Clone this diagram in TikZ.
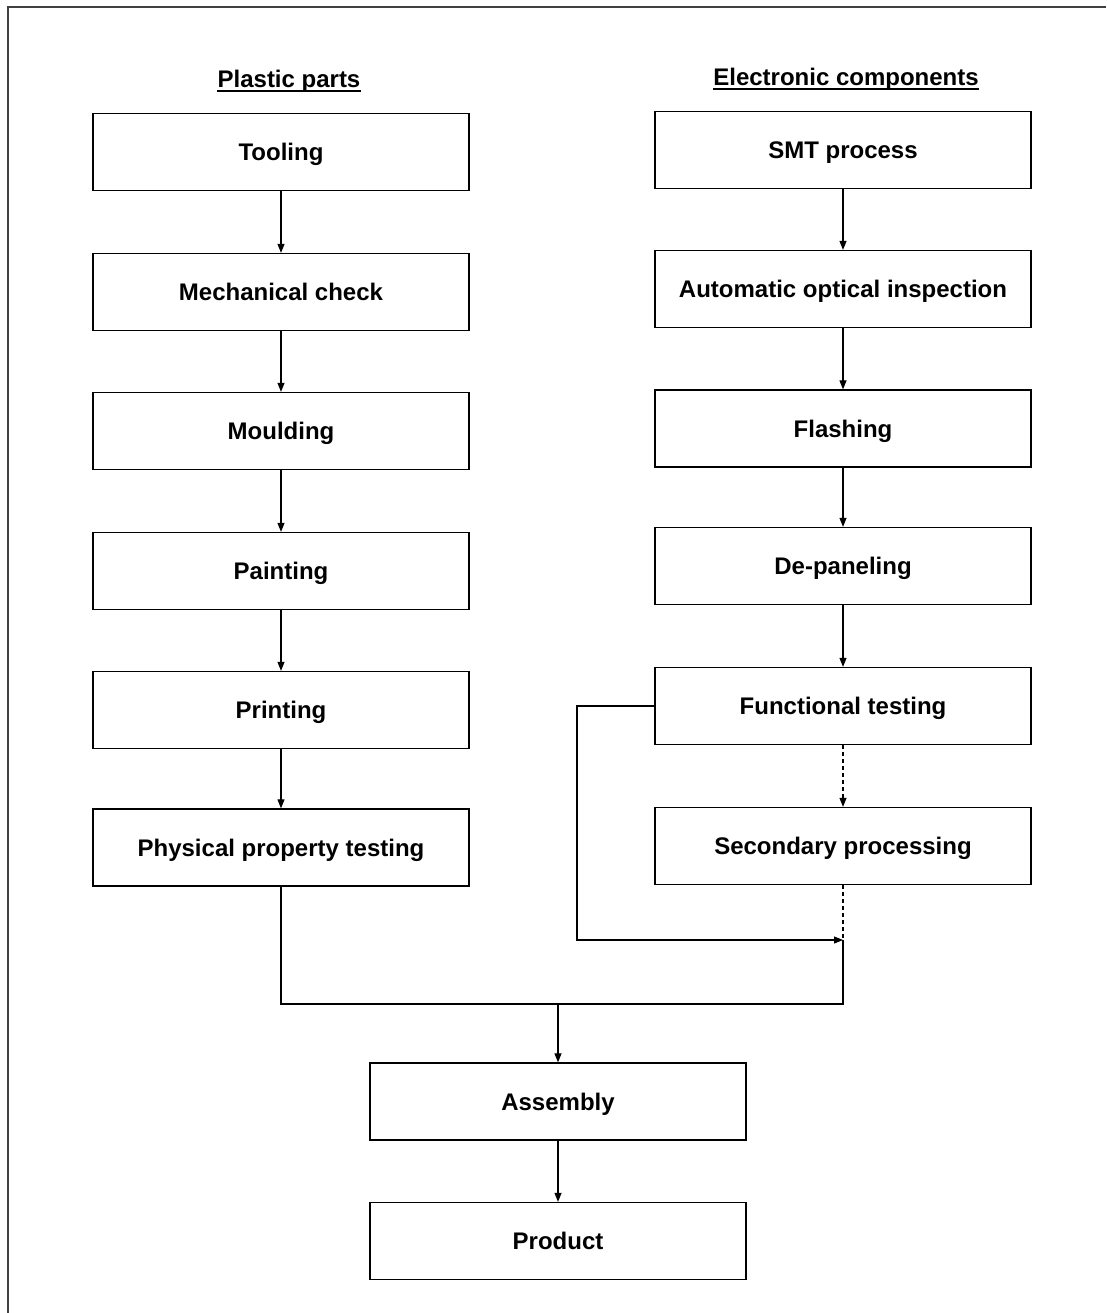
\documentclass[tikz,border=0pt]{standalone}
\usepackage{fontspec}
\setmainfont{Liberation Sans}
\usetikzlibrary{arrows.meta}
\begin{document}
\begin{tikzpicture}[x=1pt,y=-1pt,
  procbox/.style={draw=black,line width=1.3pt,minimum width=376pt,minimum height=77pt,inner sep=0pt,text height=20pt,text depth=3pt,font=\fontsize{24}{28}\selectfont\bfseries},
  heading/.style={font=\fontsize{24}{28}\selectfont\bfseries,inner sep=0pt},
  conn/.style={draw=black,line width=1.1pt},
  arr/.style={conn,-{Triangle[length=9pt,width=7pt]}},
  dsh/.style={dash pattern=on 4pt off 3pt}
]
\useasboundingbox (0,0) rectangle (1106,1313);
\draw[line width=1.5pt,black!75] (8,1313) -- (8,7) -- (1106,7);

\node[heading] (hl) at (289,81) {Plastic parts};
\node[heading] (hr) at (846,79) {Electronic components};
\draw[line width=1.8pt] ([yshift=-4pt]hl.base west) -- ([yshift=-4pt]hl.base east);
\draw[line width=1.8pt] ([yshift=-4pt]hr.base west) -- ([yshift=-4pt]hr.base east);

\node[procbox] (tool) at (281,152) {Tooling};
\node[procbox] (mech) at (281,292) {Mechanical check};
\node[procbox] (mould) at (281,431) {Moulding};
\node[procbox] (paint) at (281,571) {Painting};
\node[procbox] (print) at (281,710) {Printing};
\node[procbox] (phys) at (281,847.5) {Physical property testing};

\node[procbox] (smt) at (843,150) {SMT process};
\node[procbox] (aoi) at (843,289) {Automatic optical inspection};
\node[procbox] (flash) at (843,428.5) {Flashing};
\node[procbox] (depan) at (843,566) {De-paneling};
\node[procbox] (func) at (843,706) {Functional testing};
\node[procbox] (sec) at (843,846) {Secondary processing};

\node[procbox] (asm) at (558,1101.5) {Assembly};
\node[procbox] (prod) at (558,1241) {Product};

\coordinate (m1) at (843,940);
\coordinate (m2) at (558,1004);

\draw[arr] (tool.south) -- (mech.north);
\draw[arr] (mech.south) -- (mould.north);
\draw[arr] (mould.south) -- (paint.north);
\draw[arr] (paint.south) -- (print.north);
\draw[arr] (print.south) -- (phys.north);

\draw[arr] (smt.south) -- (aoi.north);
\draw[arr] (aoi.south) -- (flash.north);
\draw[arr] (flash.south) -- (depan.north);
\draw[arr] (depan.south) -- (func.north);
\draw[arr,dsh] (func.south) -- (sec.north);

\draw[conn,dsh] (sec.south) -- (m1);
\draw[arr] (func.west) -- (577,706) -- (577,940) -- (m1);
\draw[conn] (phys.south) -- (phys.south |- m2) -- (843,1004) -- (m1);
\draw[arr] (m2) -- (asm.north);
\draw[arr] (asm.south) -- (prod.north);
\end{tikzpicture}
\end{document}
